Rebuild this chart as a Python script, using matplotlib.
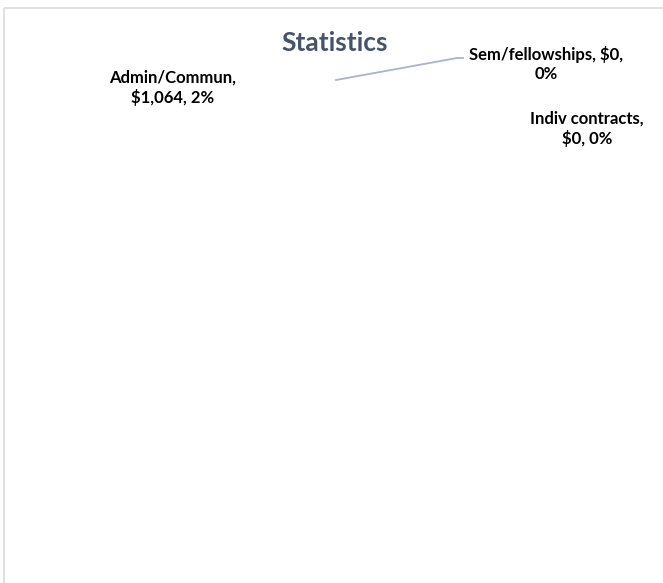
import matplotlib.pyplot as plt
from matplotlib.patches import Rectangle

# data labels of the pie (slices themselves are not visible)
categories = ["Admin/Commun", "Sem/fellowships", "Indiv contracts"]
amounts = [1064, 0, 0]
percents = [2, 0, 0]
wrap_after = [1, 2, 1]  # line break after this many commas

title = "Statistics"

plt.rcParams['font.family'] = ['Lato', 'DejaVu Sans']

W, H = 663, 583
fig = plt.figure(figsize=(W / 100, H / 100), dpi=100)
ax = fig.add_axes([0, 0, 1, 1])
ax.set_xlim(0, W)
ax.set_ylim(H, 0)
ax.axis('off')

# chart border (cropped on the right and bottom)
ax.add_patch(Rectangle((4, 8), W + 20, H + 20, fill=False, edgecolor='#dadee5', lw=1.3))

ax.text(335, 51, title, ha='center', va='baseline', fontsize=19,
        fontweight='bold', color='#44546a')

# build label strings
labels = []
for cat, amt, pct, n in zip(categories, amounts, percents, wrap_after):
    parts = [cat, f"${amt:,}", f"{pct}%"]
    labels.append(", ".join(parts[:n]) + ",\n" + ", ".join(parts[n:]))

# baseline of the second line of each label
label_pos = [(173, 103), (546, 79), (587, 144)]
for lab, (x, y) in zip(labels, label_pos):
    ax.text(x, y, lab, ha='center', va='baseline', fontsize=12,
            fontweight='bold', color='black', linespacing=1.25)

# leader line for Sem/fellowships label
ax.plot([336, 457, 463], [80, 58, 58], color='#a6b5cc', lw=1.3)

fig.savefig('out.png', dpi=100)
